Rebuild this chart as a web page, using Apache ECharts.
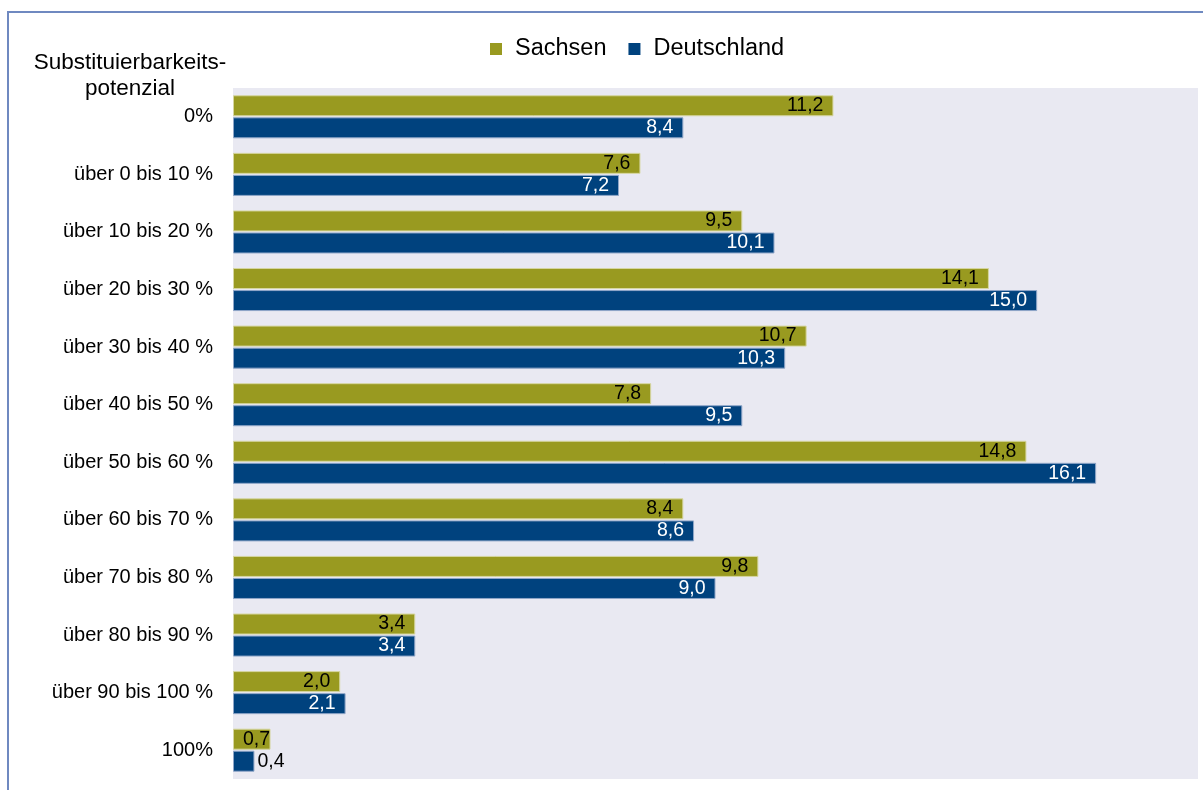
<!DOCTYPE html>
<html>
<head>
<meta charset="utf-8">
<script src="https://cdn.jsdelivr.net/npm/echarts@6/dist/echarts.min.js"></script>
<style>
html,body{margin:0;padding:0;background:#fff;}
#chart{width:1203px;height:790px;}
</style>
</head>
<body>
<div id="chart"></div>
<script>
const categories = ['0%', 'über 0 bis 10 %', 'über 10 bis 20 %', 'über 20 bis 30 %', 'über 30 bis 40 %', 'über 40 bis 50 %', 'über 50 bis 60 %', 'über 60 bis 70 %', 'über 70 bis 80 %', 'über 80 bis 90 %', 'über 90 bis 100 %', '100%'];
const sachsen = [11.2, 7.6, 9.5, 14.1, 10.7, 7.8, 14.8, 8.4, 9.8, 3.4, 2.0, 0.7];
const deutschland = [8.4, 7.2, 10.1, 15.0, 10.3, 9.5, 16.1, 8.6, 9.0, 3.4, 2.1, 0.4];
const seriesNames = ['Sachsen', 'Deutschland'];
const axisTitle = 'Substituierbarkeits-\npotenzial';

const FONT = '"Liberation Sans", Arial, sans-serif';
const fmt = p => p.value.toFixed(1).replace('.', ',');

function buildData(values, textColor) {
  return values.map(v => {
    if (v < 0.6) {
      return {value: v, label: {position: 'right', distance: 3, color: '#000'}};
    }
    if (v < 1) {
      return {value: v, label: {position: 'insideLeft', distance: 10, color: textColor}};
    }
    return v;
  });
}

const chart = echarts.init(document.getElementById('chart'), null, {renderer: 'canvas'});
chart.setOption({
  animation: false,
  textStyle: {fontFamily: FONT},
  legend: {
    data: seriesNames,
    left: 485,
    top: 32,
    itemWidth: 12,
    itemHeight: 12,
    itemGap: 22,
    icon: 'rect',
    itemStyle: {borderWidth: 0},
    textStyle: {fontSize: 23.5, color: '#000', fontFamily: FONT, padding: [0, 0, 0, 8]}
  },
  grid: {
    left: 233, top: 88, right: 5, bottom: 11,
    show: true, backgroundColor: '#e9e9f2', borderWidth: 0
  },
  xAxis: {
    type: 'value', min: 0, max: 18,
    show: false
  },
  yAxis: {
    type: 'category', data: categories, inverse: true,
    axisLine: {show: false}, axisTick: {show: false},
    axisLabel: {fontSize: 20, color: '#000', margin: 20, fontFamily: FONT}
  },
  graphic: [
    {type: 'rect', shape: {x: 7, y: 11, width: 1196, height: 2}, style: {fill: '#6f89c0'}},
    {type: 'rect', shape: {x: 7, y: 11, width: 2, height: 779}, style: {fill: '#6f89c0'}},
    {type: 'text', x: 130, y: 50, style: {text: axisTitle, font: '22.5px ' + FONT, fill: '#000', align: 'center', verticalAlign: 'top', lineHeight: 26}}
  ],
  series: [
    {
      name: seriesNames[0], type: 'bar', barWidth: 21, barGap: '5%', barCategoryGap: '27%',
      itemStyle: {color: '#999a20', borderColor: '#d6d6a0', borderWidth: 1},
      label: {show: true, position: 'insideRight', distance: 10, color: '#000', fontSize: 19.5, fontFamily: FONT, formatter: fmt},
      data: buildData(sachsen, '#000')
    },
    {
      name: seriesNames[1], type: 'bar', barWidth: 21,
      itemStyle: {color: '#00427e', borderColor: '#8fa6c8', borderWidth: 1},
      label: {show: true, position: 'insideRight', distance: 10, color: '#fff', fontSize: 19.5, fontFamily: FONT, formatter: fmt},
      data: buildData(deutschland, '#fff')
    }
  ]
});
</script>
</body>
</html>
